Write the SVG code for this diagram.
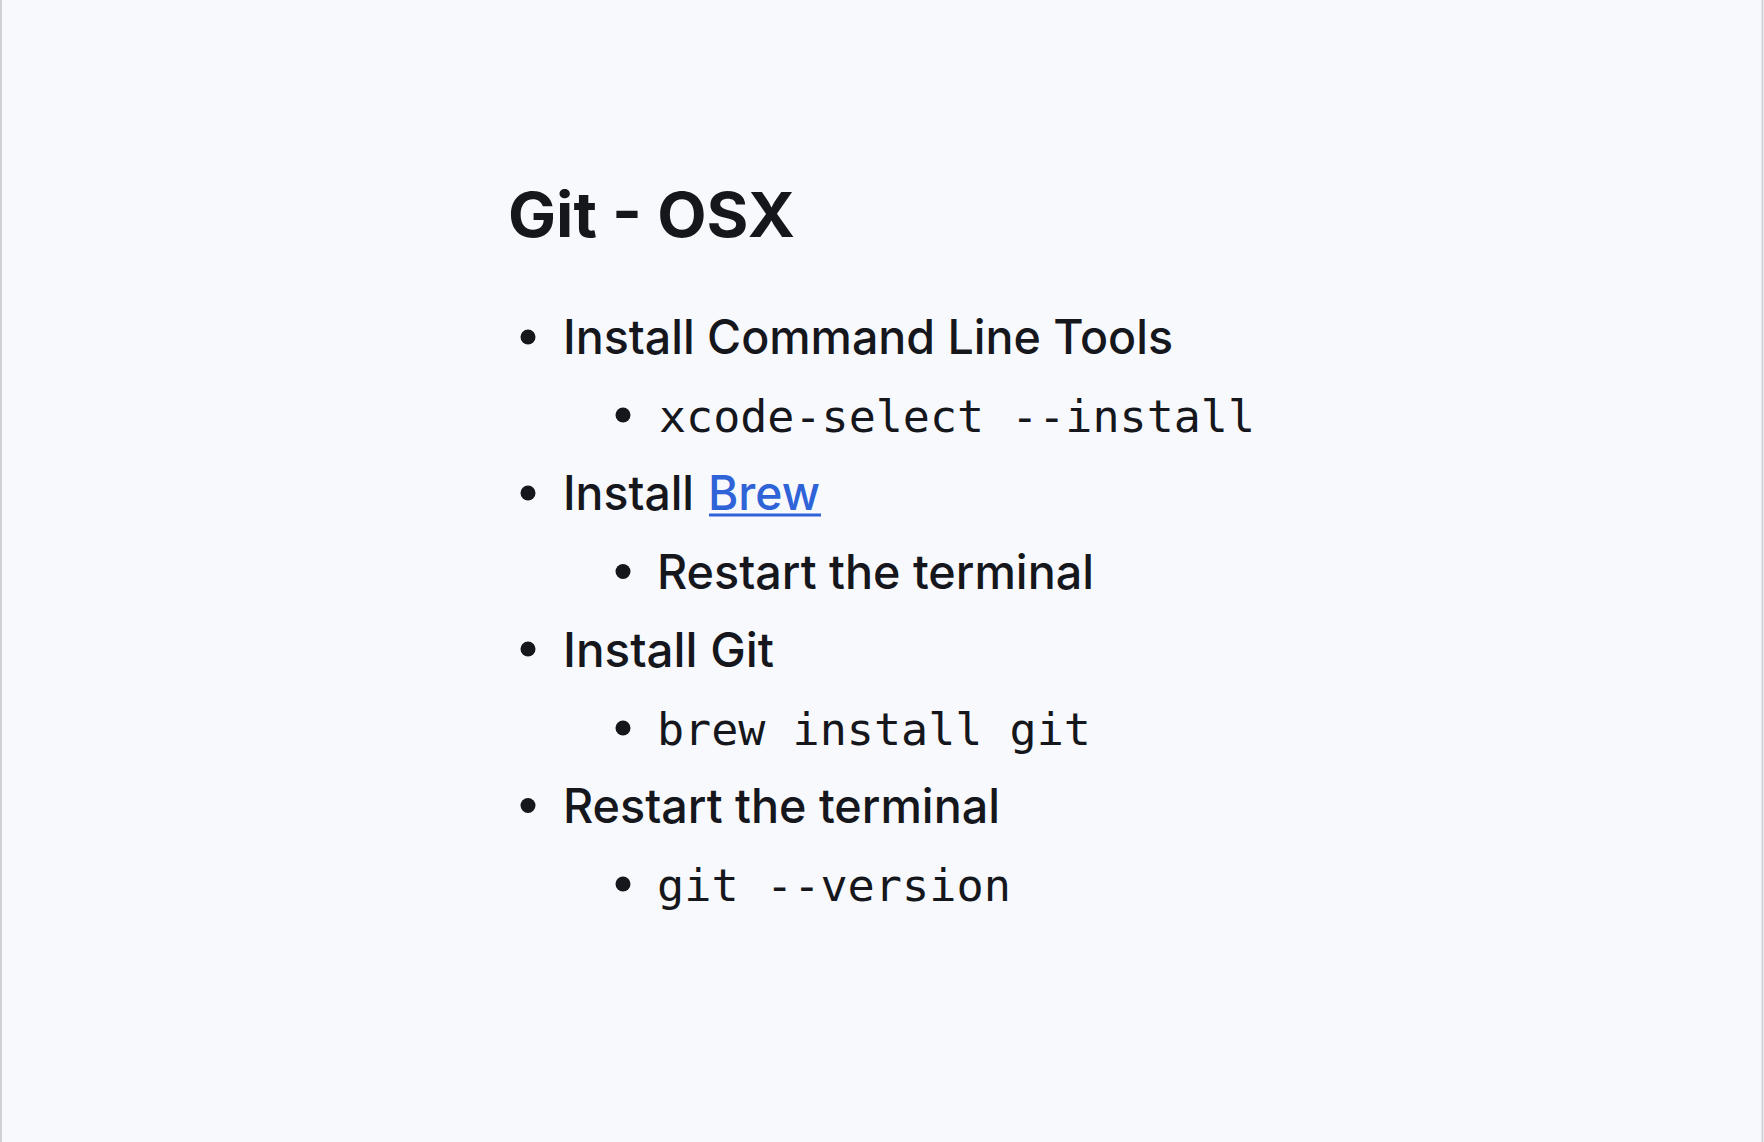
<svg xmlns="http://www.w3.org/2000/svg" width="1764" height="1142" viewBox="0 0 1764 1142">
<style>
.bg{fill:#f8f9fd}
.edge{stroke:#d0d1d7;stroke-width:2}
.title{font-family:Inter,"Liberation Sans",sans-serif;font-weight:700;font-size:62px;fill:#15171c}
.t{font-family:Inter,"Liberation Sans",sans-serif;font-weight:500;font-size:48px;fill:#15171c}
.m{font-family:"DejaVu Sans Mono","Liberation Mono",monospace;font-size:45px;fill:#15171c}
.link{fill:#2f63d8}
.ul{stroke:#2f63d8;stroke-width:3}
.b{fill:#15171c}
</style>
<rect class="bg" x="0" y="0" width="1764" height="1142"/>
<line class="edge" x1="1" y1="0" x2="1" y2="1142"/>
<line class="edge" x1="1762.5" y1="0" x2="1762.5" y2="1142"/>
<g id="title"><text class="title" x="508" y="237" textLength="287" lengthAdjust="spacingAndGlyphs">Git - OSX</text></g>
<g id="item1">
<circle class="b" cx="528" cy="337" r="7.5"/>
<text class="t" x="563" y="354" textLength="610" lengthAdjust="spacingAndGlyphs">Install Command Line Tools</text>
</g>
<g id="item1a">
<circle class="b" cx="623" cy="415" r="7.5"/>
<text class="m" x="659" y="432" textLength="596" lengthAdjust="spacingAndGlyphs">xcode-select --install</text>
</g>
<g id="item2">
<circle class="b" cx="528" cy="493" r="7.5"/>
<text class="t" x="563" y="510" textLength="131" lengthAdjust="spacingAndGlyphs">Install</text>
<text class="t link" x="708" y="510" textLength="112" lengthAdjust="spacingAndGlyphs">Brew</text>
<line class="ul" x1="709" y1="515" x2="821" y2="515"/>
</g>
<g id="item2a">
<circle class="b" cx="623" cy="571.5" r="7.5"/>
<text class="t" x="657" y="589" textLength="437" lengthAdjust="spacingAndGlyphs">Restart the terminal</text>
</g>
<g id="item3">
<circle class="b" cx="528" cy="649" r="7.5"/>
<text class="t" x="563" y="667" textLength="211" lengthAdjust="spacingAndGlyphs">Install Git</text>
</g>
<g id="item3a">
<circle class="b" cx="623" cy="728" r="7.5"/>
<text class="m" x="657" y="745" textLength="434" lengthAdjust="spacingAndGlyphs">brew install git</text>
</g>
<g id="item4">
<circle class="b" cx="528" cy="805.5" r="7.5"/>
<text class="t" x="563" y="823" textLength="437" lengthAdjust="spacingAndGlyphs">Restart the terminal</text>
</g>
<g id="item4a">
<circle class="b" cx="623" cy="884" r="7.5"/>
<text class="m" x="657" y="901" textLength="354" lengthAdjust="spacingAndGlyphs">git --version</text>
</g>
<g id="connectors"></g>
</svg>
